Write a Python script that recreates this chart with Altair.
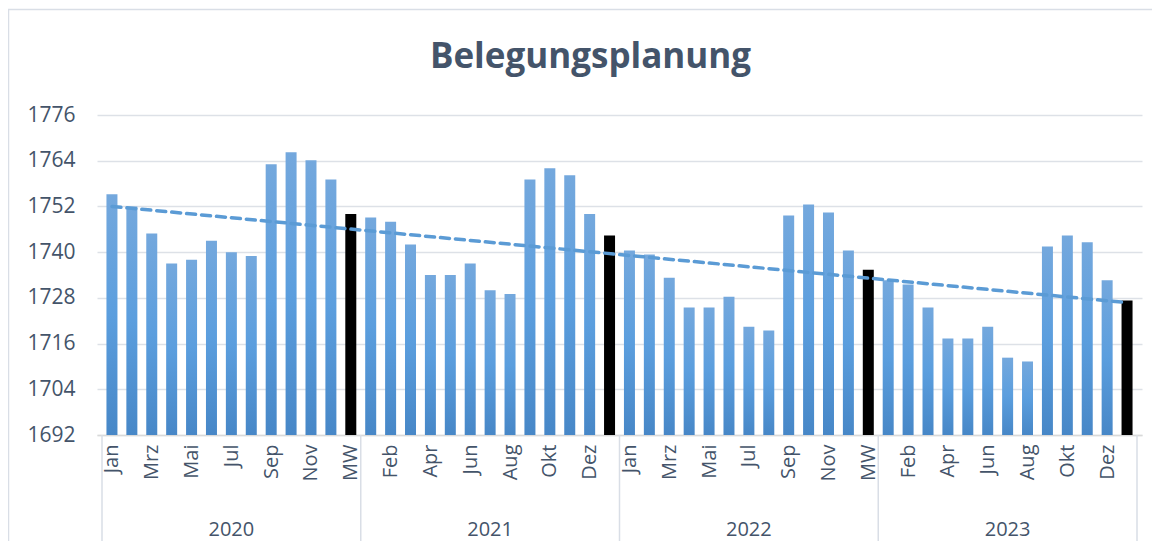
import json
import altair as alt
import pandas as pd

# ---- data ----
months = ["Jan", "Feb", "Mrz", "Apr", "Mai", "Jun", "Jul", "Aug", "Sep", "Okt", "Nov", "Dez", "MW"]
years = ["2020", "2021", "2022", "2023"]
v2020 = [1755.2, 1752.0, 1744.9, 1737.0, 1738.0, 1743.0, 1740.0, 1739.0, 1763.1, 1766.2, 1764.1, 1759.1, 1750.0]
v2021 = [1749.1, 1748.0, 1742.0, 1734.0, 1734.0, 1737.0, 1730.0, 1729.0, 1759.1, 1762.0, 1760.2, 1750.0, 1744.4]
v2022 = [1740.4, 1739.4, 1733.3, 1725.5, 1725.5, 1728.3, 1720.4, 1719.4, 1749.6, 1752.5, 1750.4, 1740.4, 1735.4]
v2023 = [1732.6, 1731.5, 1725.5, 1717.3, 1717.3, 1720.4, 1712.3, 1711.3, 1741.5, 1744.4, 1742.6, 1732.6, 1727.3]
y_ticks = [1692, 1704, 1716, 1728, 1740, 1752, 1764, 1776]
title_text = "Belegungsplanung"

series = [v2020, v2021, v2022, v2023]
n = len(months)
rows = []
for g, (yr, vals) in enumerate(zip(years, series)):
    for i, (m, v) in enumerate(zip(months, vals)):
        rows.append({"idx": g * n + i, "year": yr, "month": m, "value": v})
df = pd.DataFrame(rows)
total = len(df)

sep_df = pd.DataFrame({"idx": [g * n - 0.5 for g in range(len(years) + 1)]})
year_df = pd.DataFrame({"idx": [g * n + (n - 1) / 2 for g in range(len(years))], "year": years})

W, H = 1045, 320
TXT = "#44546A"
GRID = "#DDE1E7"
FONT = "Open Sans"

label_expr = json.dumps(months) + "[datum.value % " + str(n) + "]"

xenc = alt.X(
    "idx:Q",
    scale=alt.Scale(domain=[-0.5, total - 0.5], nice=False, zero=False),
    axis=alt.Axis(
        values=list(range(0, total, 2)),
        labelExpr=label_expr,
        labelAngle=-90,
        labelAlign="right",
        labelBaseline="middle",
        labelFontSize=20,
        labelColor=TXT,
        labelPadding=9,
        ticks=False,
        grid=False,
        domain=True,
        domainColor="#D9D9D9",
        domainWidth=1.5,
        title=None,
        labelOverlap=False,
    ),
)
yenc = alt.Y(
    "value:Q",
    scale=alt.Scale(domain=[y_ticks[0], y_ticks[-1]], nice=False, zero=False),
    axis=alt.Axis(
        values=y_ticks,
        format="d",
        labelFontSize=21,
        labelColor=TXT,
        labelPadding=22,
        ticks=False,
        domain=False,
        grid=True,
        gridColor=GRID,
        gridWidth=1.5,
        title=None,
    ),
)
y2enc = alt.datum(y_ticks[0])

grad = alt.LinearGradient(
    gradient="linear",
    stops=[
        alt.GradientStop(color="#74A8DD", offset=0),
        alt.GradientStop(color="#5B9EDE", offset=0.5),
        alt.GradientStop(color="#4787C7", offset=1),
    ],
    x1=1, x2=1, y1=0, y2=1,
)

base = alt.Chart(df)

frame = alt.Chart(alt.Data(values=[{"f": 1}])).mark_rect(
    fill="transparent", stroke="#D9DEE6", strokeWidth=1.5
).encode(
    x=alt.value(-88.5), x2=alt.value(W + 200),
    y=alt.value(-105.5), y2=alt.value(H + 300),
)

bars = base.transform_filter("datum.month != 'MW'").mark_bar(size=11, color=grad).encode(
    x=xenc, y=yenc, y2=y2enc
)
mw = base.transform_filter("datum.month == 'MW'").mark_bar(size=11, color="#000000").encode(
    x=xenc, y=yenc, y2=y2enc
)
trend = base.transform_regression("idx", "value", method="linear", extent=[0, total - 1]).mark_line(
    color="#5B9BD5", strokeWidth=3.5, strokeDash=[9, 6], strokeCap="round"
).encode(x=xenc, y=yenc)

seps = alt.Chart(sep_df).mark_rule(color="#D9DEE6", strokeWidth=1.5).encode(
    x=xenc, y=alt.value(H), y2=alt.value(H + 113)
)
year_txt = alt.Chart(year_df).mark_text(fontSize=20, color=TXT, font=FONT, baseline="middle").encode(
    x=xenc, y=alt.value(H + 95), text="year:N"
)

chart = alt.layer(frame, bars, mw, trend, seps, year_txt).properties(
    width=W,
    height=H,
    title=alt.TitleParams(
        text=title_text, fontSize=35, fontWeight="bold", color=TXT, font=FONT,
        anchor="middle", frame="group", baseline="alphabetic", offset=-94, dx=-29,
    ),
    autosize=alt.AutoSizeParams(type="none"),
    padding={"left": 89, "top": 107, "right": 10, "bottom": 106},
).configure(font=FONT).configure_view(stroke=None)

chart.save("out.html", embed_options={"renderer": "svg", "actions": False})
